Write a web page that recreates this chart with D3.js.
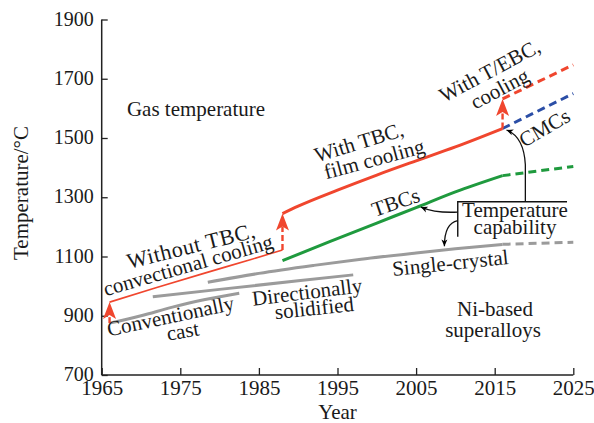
<!DOCTYPE html>
<html>
<head>
<meta charset="utf-8">
<script src="https://cdn.jsdelivr.net/npm/d3@7"></script>
<style>
  html, body { margin: 0; padding: 0; background: #fff; }
  svg { display: block; font-family: "Liberation Serif", "Times New Roman", serif; }
</style>
</head>
<body>
<svg id="chart" width="594" height="423"></svg>
<script>
// ---- data -------------------------------------------------------------
const xTicks = [1965, 1975, 1985, 1995, 2005, 2015, 2025];
const yTicks = [700, 900, 1100, 1300, 1500, 1700, 1900];

// Ni-based superalloy temperature capability
const castYears = [1966, 1970, 1974, 1978, 1982.5];
const castTemps = [875, 900, 929, 954, 976];
const dsYears = [1971.5, 1980, 1990, 1997];
const dsTemps = [964, 989, 1018, 1038];
const sxYears = [1978.5, 1985, 1992, 1998, 2005, 2010, 2016];
const sxTemps = [1013, 1043, 1070, 1091, 1112, 1126, 1141];

// gas temperature
const convYears = [1966, 1972, 1978, 1984, 1988];
const convTemps = [946, 995, 1043, 1090, 1122];
const filmYears = [1988, 1990, 1995, 2000, 2005, 2010, 2016];
const filmTemps = [1245, 1270, 1324, 1375, 1423, 1470, 1532];

// TBC capability
const tbcYears = [1988, 1994, 2000, 2005, 2010, 2016];
const tbcTemps = [1086, 1150, 1213, 1265, 1318, 1373];

// projections 2016 -> 2025
const projYears = [2016, 2025];
const projEbc = [1632, 1747];
const projCmc = [1532, 1650];
const projTbc = [1373, 1404];
const projSx = [1141, 1148];

// step-ups in gas temperature: [year, from, to]
const jumps = [[1966, 875, 946], [1988, 1122, 1245], [2016, 1532, 1632]];

// ---- layout -----------------------------------------------------------
const RED = "#f0462e", GREEN = "#1f9a3e", BLUE = "#2b4ea6", GRAY = "#9b9b9b";
const FONT = 21;
const svg = d3.select("#chart");
const x = d3.scaleLinear().domain([1965, 2025]).range([101.7, 573.3]);
const y = d3.scaleLinear().domain([700, 1900]).range([375, 19.5]);
const line = d3.line().x(d => x(d[0])).y(d => y(d[1])).curve(d3.curveMonotoneX);
const zip = (a, b) => a.map((v, i) => [v, b[i]]);

// arrowheads
const defs = svg.append("defs");
defs.append("marker").attr("id", "blk").attr("viewBox", "-10 -5 12 10")
  .attr("refX", 0).attr("refY", 0).attr("markerWidth", 9).attr("markerHeight", 8)
  .attr("markerUnits", "userSpaceOnUse").attr("orient", "auto")
  .append("path").attr("d", "M0,0 L-9,-4 L-6.5,0 L-9,4 Z").attr("fill", "#000");

// ---- axes -------------------------------------------------------------
const axisColor = "#222";
const xAxis = svg.append("g").attr("transform", `translate(0,${y(700)})`)
  .call(d3.axisBottom(x).tickValues(xTicks).tickFormat(d3.format("d")).tickSize(-7).tickPadding(6));
const yAxis = svg.append("g").attr("transform", `translate(${x(1965)},0)`)
  .call(d3.axisLeft(y).tickValues(yTicks).tickFormat(d3.format("d")).tickSize(-6).tickPadding(8));
[xAxis, yAxis].forEach(g => {
  g.select(".domain").attr("stroke", axisColor).attr("stroke-width", 1.5);
  g.selectAll(".tick line").attr("stroke", axisColor).attr("stroke-width", 1.3);
  g.selectAll("text").attr("fill", "#1a1a1a")
    .attr("font-family", "Liberation Serif, Times New Roman, serif");
});
xAxis.selectAll("text").attr("font-size", FONT).attr("dy", "0.68em");
yAxis.selectAll("text").attr("font-size", 20).attr("dy", "0.28em");
yAxis.select(".domain").attr("d", `M0,${y(700)}V${y(1900)}`);
xAxis.select(".domain").attr("d", `M${x(1965)},0H${x(2025)}`);

svg.append("text").attr("x", x(1995)).attr("y", 419).attr("text-anchor", "middle")
  .attr("font-size", FONT).attr("fill", "#1a1a1a").text("Year");
svg.append("text").attr("transform", "translate(28,193) rotate(-90)").attr("text-anchor", "middle")
  .attr("font-size", FONT).attr("fill", "#1a1a1a").text("Temperature/°C");

// ---- series -----------------------------------------------------------
const solid = [
  [castYears, castTemps, GRAY, 3],
  [dsYears, dsTemps, GRAY, 3],
  [sxYears, sxTemps, GRAY, 3],
  [convYears, convTemps, RED, 1.6],
  [filmYears, filmTemps, RED, 3],
  [tbcYears, tbcTemps, GREEN, 3]
];
solid.forEach(([xs, ys, c, w]) => {
  svg.append("path").datum(zip(xs, ys)).attr("d", line)
    .attr("fill", "none").attr("stroke", c).attr("stroke-width", w);
});
const dashed = [[projEbc, RED], [projCmc, BLUE], [projTbc, GREEN], [projSx, GRAY]];
dashed.forEach(([ys, c]) => {
  svg.append("path").datum(zip(projYears, ys)).attr("d", d3.line().x(d => x(d[0])).y(d => y(d[1])))
    .attr("fill", "none").attr("stroke", c).attr("stroke-width", 3).attr("stroke-dasharray", "8,5");
});

// step-up arrows
const headLen = 17, headHalf = 6.5;
jumps.forEach(([yr, t0, t1]) => {
  const px = x(yr), tip = y(t1), bottom = y(t0);
  const base = tip + headLen - 4;
  if (bottom > base) {
    svg.append("line").attr("x1", px).attr("x2", px).attr("y1", bottom).attr("y2", base)
      .attr("stroke", RED).attr("stroke-width", 2.4).attr("stroke-dasharray", "6,3");
  }
  svg.append("path")
    .attr("d", `M${px},${tip} L${px + headHalf},${tip + headLen} L${px},${tip + headLen - 4} L${px - headHalf},${tip + headLen} Z`)
    .attr("fill", RED);
});

// ---- temperature capability bracket and pointers -----------------------
const bracketTop = 1285, bracketBottom = 1167, bracketLeft = 2010.3, bracketRight = 2024.2;
svg.append("path")
  .attr("d", `M${x(bracketRight)},${y(bracketTop)} H${x(bracketLeft)} V${y(bracketBottom)}`)
  .attr("fill", "none").attr("stroke", "#111").attr("stroke-width", 1.4);
const pointers = [
  [[bracketLeft, 1250], [2007.5, 1246], [2005.6, 1267]],            // to TBCs
  [[bracketLeft, 1221], [2008.6, 1212], [2008.6, 1135]],            // to single-crystal
];
pointers.forEach(([p0, c, p1]) => {
  svg.append("path")
    .attr("d", `M${x(p0[0])},${y(p0[1])} Q${x(c[0])},${y(c[1])} ${x(p1[0])},${y(p1[1])}`)
    .attr("fill", "none").attr("stroke", "#111").attr("stroke-width", 1.3).attr("marker-end", "url(#blk)");
});
svg.append("path")
  .attr("d", `M${x(2018.9)},${y(bracketTop)} V${y(1410)} Q${x(2018.7)},${y(1505)} ${x(2016.5)},${y(1527)}`)
  .attr("fill", "none").attr("stroke", "#111").attr("stroke-width", 1.3).attr("marker-end", "url(#blk)");

// ---- labels: text, x, y, rotation, font size, letter spacing ------------
const labels = [
  ["Gas temperature", 196, 116, 0, 21, 0],
  ["Without TBC,", 193, 253, -14, 22, 0.6],
  ["convectional cooling", 190, 272, -16, 21, 0],
  ["With TBC,", 361, 149, -17, 21, 0],
  ["film cooling", 376, 166, -15, 21, 0],
  ["TBCs", 398, 209, -19, 21, 0],
  ["With T/EBC,", 493, 77, -28, 21, 0],
  ["cooling", 503, 95, -28, 21, 0],
  ["CMCs", 548, 134, -30, 21, 0],
  ["Temperature", 515, 217, 0, 21, 0],
  ["capability", 515, 234, 0, 21, 0],
  ["Single-crystal", 451, 270, -6, 21, 0],
  ["Directionally", 308, 299, -7, 21, 0],
  ["solidified", 315, 315, -6, 21, 0],
  ["Conventionally", 172, 323, -12, 21, 0],
  ["cast", 184, 338, -10, 21, 0],
  ["Ni-based", 495, 316, 0, 21, 0],
  ["superalloys", 493, 337, 0, 21, 0]
];
svg.append("g").selectAll("text").data(labels).join("text")
  .attr("transform", d => `translate(${d[1]},${d[2]}) rotate(${d[3]})`)
  .attr("text-anchor", "middle").attr("font-size", d => d[4]).attr("fill", "#1a1a1a")
  .attr("letter-spacing", d => d[5] ? d[5] + "px" : null)
  .text(d => d[0]);
</script>
</body>
</html>
